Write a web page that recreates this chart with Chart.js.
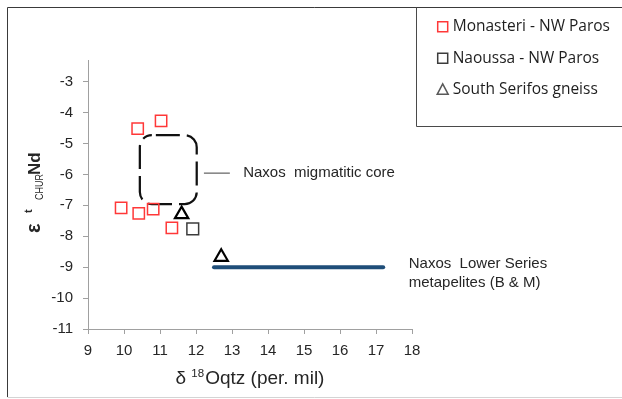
<!DOCTYPE html>
<html>
<head>
<meta charset="utf-8">
<script src="https://cdn.jsdelivr.net/npm/chart.js@4/dist/chart.umd.min.js"></script>
<style>
  html, body { margin: 0; padding: 0; background: #fff; }
  #wrap { width: 622px; height: 399px; position: relative; }
</style>
</head>
<body>
<div id="wrap"><canvas id="c" width="622" height="399"></canvas></div>
<script>
// δ18O (quartz) against εNd for each sample group
const monasteriX = [10.38, 11.03, 9.92, 10.41, 10.81, 11.33];
const monasteriY = [-4.52, -4.27, -7.08, -7.26, -7.12, -7.73];
const naoussaX = [11.91];
const naoussaY = [-7.76];
const serifosX = [11.60, 12.70];
const serifosY = [-7.29, -8.67];

// Naxos Lower Series metapelites (B & M) range
const lowerSeriesX = [12.5, 17.2];
const lowerSeriesY = [-9, -9];

// Naxos migmatitic core field and its leader line
const coreFieldX = [10.44, 12.02];
const coreFieldY = [-6.96, -4.73];
const coreLeaderX = [12.22, 12.94];
const coreLeaderY = -5.96;
const coreLabelX = 13.31;
const lowerLabelX = 17.91;
const lowerLabelY = [-8.90, -9.50];

const seriesNames = ['Monasteri - NW Paros', 'Naoussa - NW Paros', 'South Serifos gneiss'];
const coreLabel = 'Naxos  migmatitic core';
const lowerLabel = ['Naxos  Lower Series', 'metapelites (B & M)'];

const xTicks = [9, 10, 11, 12, 13, 14, 15, 16, 17, 18];
const yTicks = [-11, -10, -9, -8, -7, -6, -5, -4, -3];
const xRange = [9, 18];
const yRange = [-11, -2.3];

const pts = (xs, ys) => xs.map((x, i) => ({ x: x, y: ys[i] }));

const SANS = "'Liberation Sans', Arial, sans-serif";
Chart.defaults.font.family = SANS;

// leader line, dashed rounded field outline and text labels
const fieldPlugin = {
  id: 'fields',
  beforeDatasetsDraw(chart) {
    const ctx = chart.ctx, xs = chart.scales.x, ys = chart.scales.y;
    const x0 = xs.getPixelForValue(coreFieldX[0]), x1 = xs.getPixelForValue(coreFieldX[1]);
    const y0 = ys.getPixelForValue(coreFieldY[1]), y1 = ys.getPixelForValue(coreFieldY[0]);
    const r = 12;
    ctx.save();
    ctx.strokeStyle = '#111';
    ctx.lineWidth = 2.25;
    ctx.setLineDash([24, 7]);
    ctx.lineDashOffset = 27;
    ctx.beginPath();
    ctx.moveTo(x0 + r, y0);
    ctx.lineTo(x1 - r, y0);
    ctx.arcTo(x1, y0, x1, y0 + r, r);
    ctx.lineTo(x1, y1 - r);
    ctx.arcTo(x1, y1, x1 - r, y1, r);
    ctx.lineTo(x0 + r, y1);
    ctx.arcTo(x0, y1, x0, y1 - r, r);
    ctx.lineTo(x0, y0 + r);
    ctx.arcTo(x0, y0, x0 + r, y0, r);
    ctx.closePath();
    ctx.stroke();
    ctx.setLineDash([]);

    const ly = ys.getPixelForValue(coreLeaderY);
    ctx.strokeStyle = '#7f7f7f';
    ctx.lineWidth = 1.5;
    ctx.beginPath();
    ctx.moveTo(xs.getPixelForValue(coreLeaderX[0]), ly);
    ctx.lineTo(xs.getPixelForValue(coreLeaderX[1]), ly);
    ctx.stroke();

    ctx.fillStyle = '#262626';
    ctx.font = '15px ' + SANS;
    ctx.textBaseline = 'middle';
    ctx.textAlign = 'left';
    ctx.fillText(coreLabel, xs.getPixelForValue(coreLabelX), ly);
    lowerLabel.forEach((t, i) => {
      ctx.fillText(t, xs.getPixelForValue(lowerLabelX), ys.getPixelForValue(lowerLabelY[i]));
    });
    ctx.restore();
  }
};

// outer frame, boxed legend and axis titles with super/subscripts
const framePlugin = {
  id: 'frame',
  afterDraw(chart) {
    const ctx = chart.ctx;
    ctx.save();
    // frame
    ctx.lineWidth = 1;
    ctx.strokeStyle = '#3a3a3a';
    ctx.beginPath();
    ctx.moveTo(7.5, 397);
    ctx.lineTo(7.5, 7.5);
    ctx.lineTo(622, 7.5);
    ctx.stroke();
    ctx.strokeStyle = '#d4d4d4';
    ctx.beginPath();
    ctx.moveTo(7.5, 397.5);
    ctx.lineTo(622, 397.5);
    ctx.stroke();

    // legend box
    ctx.strokeStyle = '#4a4a4a';
    ctx.beginPath();
    ctx.moveTo(416.5, 7.5);
    ctx.lineTo(416.5, 126.5);
    ctx.lineTo(622, 126.5);
    ctx.stroke();

    const rows = [26.8, 58.3, 89.3];
    ctx.font = "15.5px 'Open Sans', Lato, sans-serif";
    ctx.textBaseline = 'middle';
    ctx.textAlign = 'left';
    chart.data.datasets.forEach((ds) => {
      if (!ds.legendMarker) return;
      const cy = rows[ds.legendRow];
      const cx = 442.7;
      ctx.lineWidth = 1.5;
      ctx.strokeStyle = ds.legendColor;
      ctx.beginPath();
      if (ds.legendMarker === 'rect') {
        ctx.rect(cx - 5, cy - 5, 10, 10);
      } else {
        ctx.moveTo(cx, cy - 5.5);
        ctx.lineTo(cx + 5.5, cy + 5);
        ctx.lineTo(cx - 5.5, cy + 5);
        ctx.closePath();
      }
      ctx.stroke();
      ctx.fillStyle = '#1e1e1e';
      ctx.fillText(ds.label, 452.7, cy);
    });

    // x axis title: δ 18Oqtz (per. mil)
    ctx.fillStyle = '#262626';
    ctx.textBaseline = 'alphabetic';
    let x = 175.5;
    const by = 384;
    ctx.font = '19px ' + SANS;
    ctx.fillText('δ ', x, by);
    x += ctx.measureText('δ ').width;
    ctx.font = '11.5px ' + SANS;
    ctx.fillText('18', x, by - 7);
    x += ctx.measureText('18').width + 1;
    ctx.font = '19px ' + SANS;
    ctx.fillText('Oqtz (per. mil)', x, by);

    // y axis title: ε t CHUR Nd, rotated
    ctx.translate(40, 233);
    ctx.rotate(-Math.PI / 2);
    ctx.font = 'bold 20px ' + SANS;
    ctx.fillText('ε', 0, 0);
    ctx.font = 'bold 11px ' + SANS;
    ctx.fillText('t', 20, -8);
    ctx.save();
    ctx.translate(33, 3);
    ctx.scale(0.82, 1);
    ctx.font = '11px ' + SANS;
    ctx.fillText('CHUR', 0, 0);
    ctx.restore();
    ctx.font = 'bold 17px ' + SANS;
    ctx.fillText('Nd', 58, 0);
    ctx.restore();
  }
};

const axisGray = '#a0a0a0';

new Chart(document.getElementById('c'), {
  type: 'scatter',
  data: {
    datasets: [
      {
        label: seriesNames[0],
        data: pts(monasteriX, monasteriY),
        pointStyle: 'rect',
        pointRadius: 8,
        pointBorderWidth: 1.5,
        borderColor: '#ff3838',
        backgroundColor: 'rgba(0,0,0,0)',
        legendMarker: 'rect', legendRow: 0, legendColor: '#ff3838'
      },
      {
        label: seriesNames[1],
        data: pts(naoussaX, naoussaY),
        pointStyle: 'rect',
        pointRadius: 8.3,
        pointBorderWidth: 1.5,
        borderColor: '#3c3c3c',
        backgroundColor: 'rgba(0,0,0,0)',
        legendMarker: 'rect', legendRow: 1, legendColor: '#3c3c3c'
      },
      {
        label: seriesNames[2],
        data: pts(serifosX, serifosY),
        pointStyle: 'triangle',
        pointRadius: 7.7,
        pointBorderWidth: 2.2,
        borderColor: '#000',
        backgroundColor: 'rgba(0,0,0,0)',
        legendMarker: 'triangle', legendRow: 2, legendColor: '#595959'
      },
      {
        label: 'Naxos Lower Series metapelites',
        data: pts(lowerSeriesX, lowerSeriesY),
        showLine: true,
        borderColor: '#1f4e79',
        borderWidth: 4,
        borderCapStyle: 'round',
        pointRadius: 0,
        backgroundColor: '#1f4e79'
      }
    ]
  },
  options: {
    responsive: false,
    animation: false,
    devicePixelRatio: 1,
    layout: { padding: { left: 0, top: 60, right: 210, bottom: 0 } },
    plugins: { legend: { display: false }, tooltip: { enabled: false } },
    scales: {
      x: {
        type: 'linear',
        min: xRange[0], max: xRange[1],
        afterBuildTicks: s => { s.ticks = xTicks.map(v => ({ value: v })); },
        afterFit: s => { s.height = 70; },
        grid: { drawOnChartArea: false, drawTicks: true, tickLength: 5, color: axisGray },
        border: { display: true, color: axisGray, width: 1 },
        ticks: { color: '#262626', font: { size: 15 }, padding: 8, maxRotation: 0 }
      },
      y: {
        type: 'linear',
        min: yRange[0], max: yRange[1],
        afterBuildTicks: s => {
          const t = [];
          yTicks.forEach(v => { t.push({ value: v }); t.push({ value: v + 0.5 }); });
          s.ticks = t;
        },
        afterFit: s => { s.width = 88; },
        grid: { drawOnChartArea: false, drawTicks: true, tickLength: 5, color: axisGray },
        border: { display: true, color: axisGray, width: 1 },
        ticks: {
          color: '#262626', font: { size: 15 }, padding: 10,
          callback: v => Number.isInteger(v) ? String(v) : ''
        }
      }
    }
  },
  plugins: [fieldPlugin, framePlugin]
});
</script>
</body>
</html>
